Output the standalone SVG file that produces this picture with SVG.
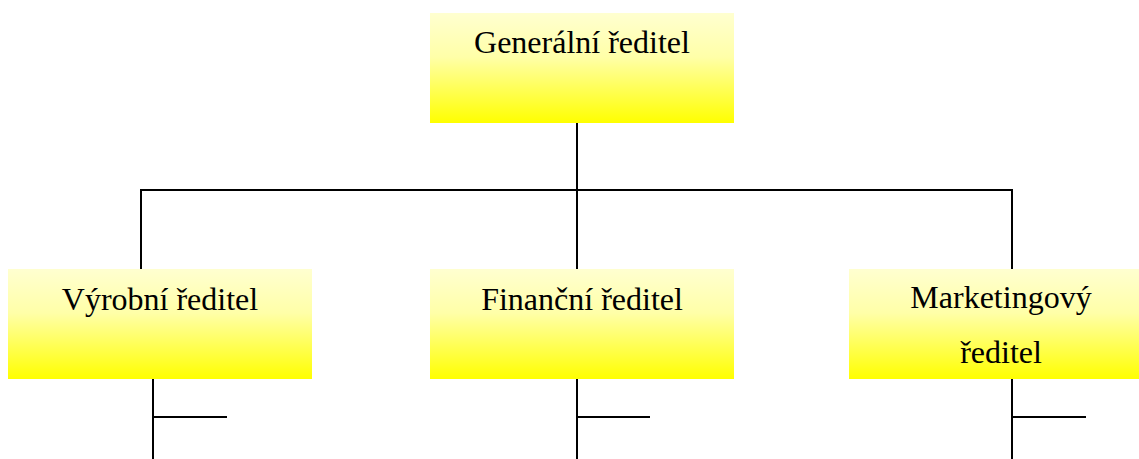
<svg xmlns="http://www.w3.org/2000/svg" width="1139" height="459" viewBox="0 0 1139 459">
  <defs>
    <linearGradient id="boxFill" x1="0" y1="0" x2="0" y2="1">
      <stop offset="0" stop-color="#ffffd0"/>
      <stop offset="0.4" stop-color="#ffffa8"/>
      <stop offset="1" stop-color="#ffff00"/>
    </linearGradient>
  </defs>
  <style>
    .box { fill: url(#boxFill); stroke: none; }
    .label { font-family: "Liberation Serif", "Times New Roman", serif; font-size: 32px; fill: #000; text-anchor: middle; }
    .wire { stroke: #000; stroke-width: 2; fill: none; }
  </style>
  <rect width="1139" height="459" fill="#fff"/>

  <g id="connectors">
    <line class="wire" x1="577" y1="123" x2="577" y2="190"/>
    <polyline class="wire" points="141,269 141,190 1012,190 1012,269"/>
    <line class="wire" x1="577" y1="190" x2="577" y2="269"/>
    <line class="wire" x1="153" y1="379" x2="153" y2="459"/>
    <line class="wire" x1="153" y1="417" x2="227" y2="417"/>
    <line class="wire" x1="577" y1="379" x2="577" y2="459"/>
    <line class="wire" x1="577" y1="417" x2="650" y2="417"/>
    <line class="wire" x1="1012" y1="379" x2="1012" y2="459"/>
    <line class="wire" x1="1012" y1="417" x2="1086" y2="417"/>
  </g>

  <g id="generalni-reditel">
    <rect class="box" x="430" y="13" width="304" height="110"/>
    <text class="label" x="582" y="53">Generální ředitel</text>
  </g>
  <g id="vyrobni-reditel">
    <rect class="box" x="8" y="269" width="304" height="110"/>
    <text class="label" x="160" y="310">Výrobní ředitel</text>
  </g>
  <g id="financni-reditel">
    <rect class="box" x="430" y="269" width="304" height="110"/>
    <text class="label" x="582" y="310">Finanční ředitel</text>
  </g>
  <g id="marketingovy-reditel">
    <rect class="box" x="849" y="269" width="304" height="110"/>
    <text class="label" x="1001" y="308">Marketingový</text>
    <text class="label" x="1001" y="363">ředitel</text>
  </g>
</svg>
